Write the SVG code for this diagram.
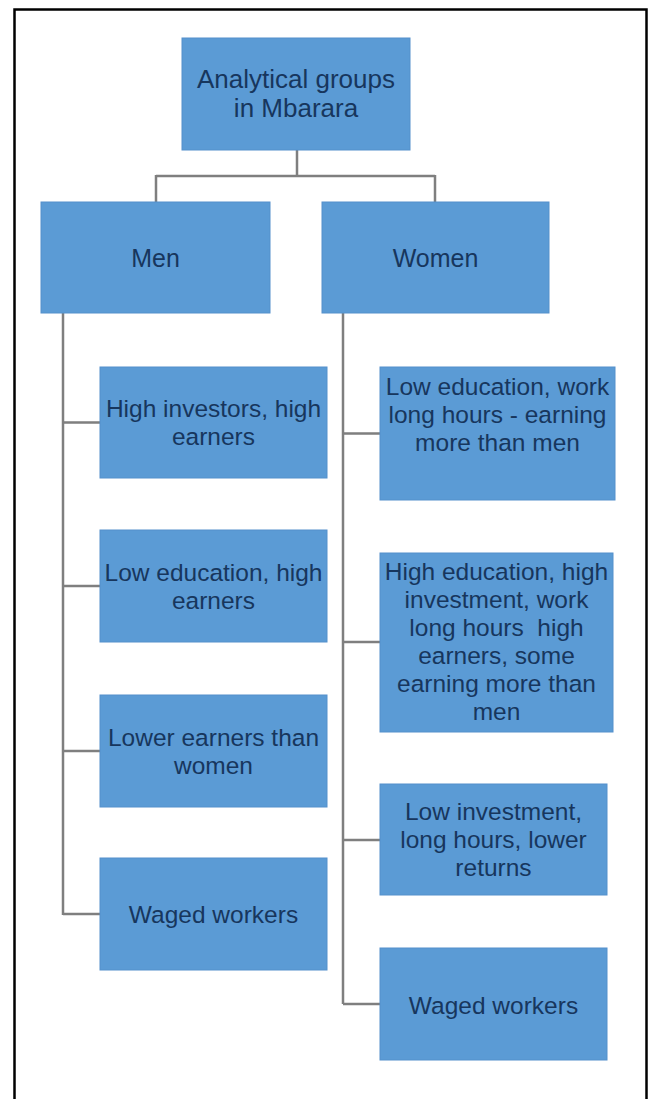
<svg xmlns="http://www.w3.org/2000/svg" width="649" height="1099" viewBox="0 0 649 1099">
<style>
.box{fill:#5b9bd5;stroke:#5590cb;stroke-width:1}
.t{font-family:"Liberation Sans",Arial,sans-serif;font-size:24.5px;fill:#17365d;text-anchor:middle;white-space:pre}
.big{font-size:26px}
.mid{font-size:25px}
.c{fill:none;stroke:#7f7f7f;stroke-width:2.5}
</style>
<rect width="649" height="1099" fill="#ffffff"/>
<path d="M14.5,1102 V9.5 H646.5 V1102" fill="none" stroke="#000" stroke-width="2.5"/>
<g id="connectors">
<path class="c" d="M297,150 V176 M156,176 H435 M156,175 V202 M435,175 V202"/>
<path class="c" d="M63,313 V915 M63,422.5 H100 M63,586 H100 M63,751 H100 M63,914 H100"/>
<path class="c" d="M343,313 V1004 M343,433.5 H381 M343,642 H381 M343,840 H381 M343,1004 H381"/>
</g>
<g id="root">
<rect class="box" x="182" y="38" width="228" height="112"/>
<text class="t big" x="296" y="88">Analytical groups</text>
<text class="t big" x="296" y="117">in Mbarara</text>
</g>
<g id="men">
<rect class="box" x="41" y="202" width="229" height="111"/>
<text class="t mid" x="155.5" y="267">Men</text>
</g>
<g id="women">
<rect class="box" x="322" y="202" width="227" height="111"/>
<text class="t mid" x="435.5" y="267">Women</text>
</g>
<g id="men1">
<rect class="box" x="100" y="367" width="227" height="111"/>
<text class="t" x="213.5" y="417">High investors, high</text>
<text class="t" x="213.5" y="445">earners</text>
</g>
<g id="men2">
<rect class="box" x="100" y="530" width="227" height="112"/>
<text class="t" x="213.5" y="581">Low education, high</text>
<text class="t" x="213.5" y="609">earners</text>
</g>
<g id="men3">
<rect class="box" x="100" y="695" width="227" height="112"/>
<text class="t" x="213.5" y="746">Lower earners than</text>
<text class="t" x="213.5" y="774">women</text>
</g>
<g id="men4">
<rect class="box" x="100" y="858" width="227" height="112"/>
<text class="t" x="213.5" y="923">Waged workers</text>
</g>
<g id="women1">
<rect class="box" x="380" y="367" width="235" height="133"/>
<text class="t" x="497.5" y="395">Low education, work</text>
<text class="t" x="497.5" y="423">long hours - earning</text>
<text class="t" x="497.5" y="451">more than men</text>
</g>
<g id="women2">
<rect class="box" x="380" y="553" width="233" height="179"/>
<text class="t" x="496.5" y="580">High education, high</text>
<text class="t" x="496.5" y="608">investment, work</text>
<text class="t" x="496.5" y="636">long hours  high</text>
<text class="t" x="496.5" y="664">earners, some</text>
<text class="t" x="496.5" y="692">earning more than</text>
<text class="t" x="496.5" y="720">men</text>
</g>
<g id="women3">
<rect class="box" x="380" y="784" width="227" height="111"/>
<text class="t" x="493.5" y="820">Low investment,</text>
<text class="t" x="493.5" y="848">long hours, lower</text>
<text class="t" x="493.5" y="876">returns</text>
</g>
<g id="women4">
<rect class="box" x="380" y="948" width="227" height="112"/>
<text class="t" x="493.5" y="1014">Waged workers</text>
</g>
</svg>
